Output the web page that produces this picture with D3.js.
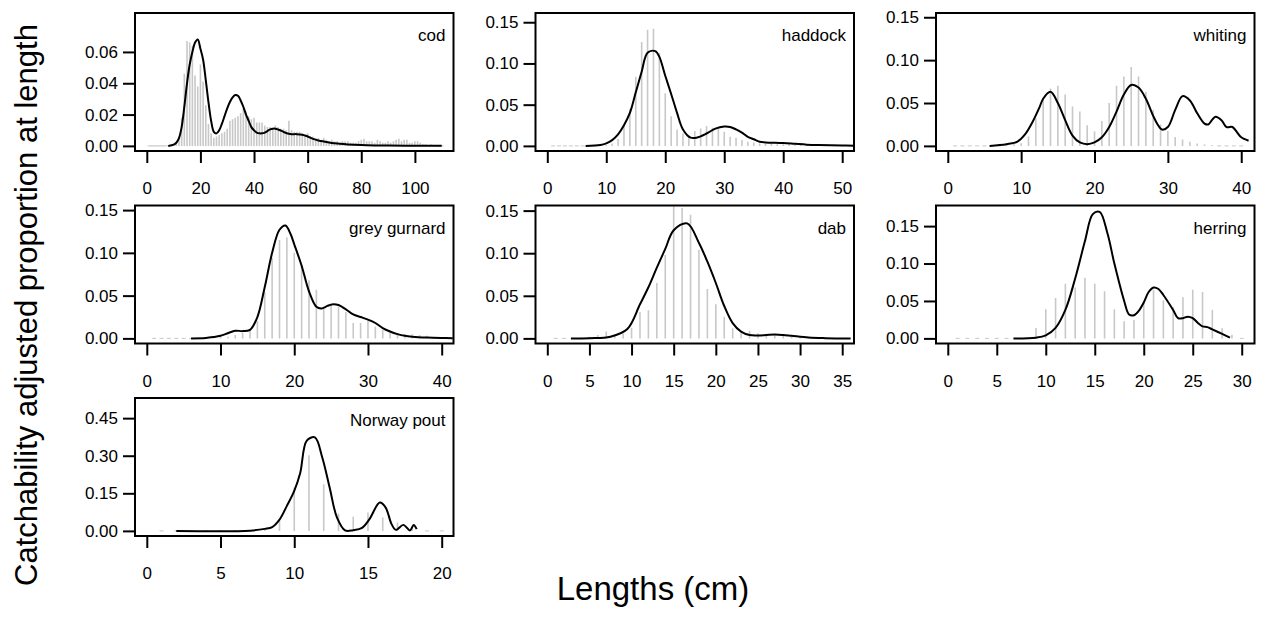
<!DOCTYPE html>
<html>
<head>
<meta charset="utf-8">
<script src="https://cdn.jsdelivr.net/npm/d3@7"></script>
<style>
  body { margin: 0; background: #fff; }
  svg { display: block; }
  text { font-family: "Liberation Sans", Arial, Helvetica, sans-serif; fill: #000; }
</style>
</head>
<body>
<div id="chart"></div>
<script>
// observed proportions at length (1 cm classes, starting at 1 cm)
const codBars = [0,0,0,0,0,0,0,0.0002,0.0004,0.0008,0.002,0.005,0.018,0.046,0.067,0.066,0.064,0.045,0.038,0.052,
  0.041,0.026,0.014,0.008,0.005,0.006,0.007,0.008,0.009,0.011,0.016,0.017,0.018,0.019,0.021,0.024,0.022,0.019,0.017,0.018,
  0.015,0.015,0.015,0.013,0.012,0.012,0.011,0.013,0.012,0.011,0.011,0.010,0.016,0.010,0.009,0.009,0.009,0.008,0.007,0.008,
  0.006,0.006,0.005,0.005,0.004,0.005,0.004,0.003,0.004,0.003,0.003,0.002,0.003,0.003,0.003,0.002,0.002,0.002,0.003,0.004,
  0.0045,0.003,0.003,0.003,0.002,0.004,0.003,0.002,0.002,0.003,0.002,0.003,0.004,0.0045,0.003,0.004,0.004,0.002,0.002,0.003,
  0.003,0.002,0.001,0.001,0.0005,0.001,0.0005,0,0,0];
const haddockBars = [0,0,0,0,0,0,0,0,0.0005,0.001,0.003,0.0085,0.025,0.045,0.084,0.126,0.141,0.142,0.113,0.064,
  0.036,0.020,0.015,0.013,0.018,0.021,0.024,0.022,0.021,0.017,0.011,0.010,0.007,0.005,0.004,0.003,0.003,0.003,0.002,0.002,
  0.002,0.002,0.001,0.001,0.001,0.001,0.001,0.0005,0.0005,0.0005];
const whitingBars = [0,0,0,0,0,0,0,0.001,0.002,0.003,0.011,0.032,0.056,0.067,0.070,0.060,0.046,0.040,0.024,0.017,
  0.029,0.050,0.070,0.081,0.092,0.081,0.063,0.042,0.025,0.0175,0.0105,0.0074,0.0047,0.0027,0.0015,0.001,0,0,0,0];
const gurnardBars = [0,0,0,0,0,0,0,0.0005,0.001,0.0015,0.002,0.004,0.006,0.010,0.020,0.054,0.094,0.115,0.118,0.100,
  0.086,0.068,0.057,0.035,0.041,0.037,0.031,0.018,0.018,0.021,0.0135,0.0098,0.0078,0.006,0.0047,0.0047,0.004,0.003,0.001,0.0005];
const dabBars = [0,0,0.0005,0.001,0.002,0.004,0.008,0.004,0.006,0.0125,0.031,0.033,0.065,0.098,0.155,0.153,0.145,0.104,0.058,0.040,
  0.0255,0.012,0.008,0.009,0.006,0.004,0.004,0.003,0.002,0.001,0.001,0.0005,0,0,0];
const herringBars = [0,0,0,0,0,0,0,0,0.014,0.039,0.054,0.073,0.068,0.081,0.073,0.063,0.039,0.023,0.0245,0.049,
  0.065,0.051,0.042,0.055,0.065,0.062,0.038,0.0134,0.005,0];
const poutBars = [0,0,0,0,0,0,0,0.007,0.040,0.173,0.302,0.186,0.069,0.056,0.073,0.053,0.033,0.013,0,0];

// fitted catchability-adjusted curves: [length (cm), proportion]
const codFit = [[8,0],[10,0.0008],[11,0.002],[12,0.005],[13,0.012],[14,0.025],[15,0.040],[16,0.052],[17,0.060],[18,0.066],
  [19,0.068],[20,0.062],[21,0.055],[22,0.042],[23,0.028],[24,0.016],[25,0.009],[26,0.008],[27,0.010],[28,0.014],
  [29,0.019],[30,0.024],[31,0.028],[32,0.031],[33,0.0325],[34,0.032],[35,0.029],[36,0.025],[37,0.020],[38,0.016],
  [39,0.012],[40,0.010],[41,0.0085],[42,0.008],[43,0.008],[44,0.0085],[45,0.0095],[46,0.0105],[47,0.011],[48,0.011],
  [49,0.0105],[50,0.0098],[51,0.009],[52,0.0082],[53,0.0077],[54,0.0075],[56,0.0075],[58,0.0071],[59,0.0066],[60,0.006],
  [61,0.0052],[62,0.0045],[64,0.0035],[66,0.0028],[68,0.0022],[70,0.0017],[72,0.0013],[75,0.0009],[80,0.0005],
  [85,0.0003],[90,0.0002],[100,0.0001],[110,0.0001]];
const haddockFit = [[6.5,0],[9,0.001],[10,0.003],[11,0.007],[12,0.014],[13,0.025],[14,0.040],[15,0.065],[16,0.090],
  [17,0.113],[18.3,0.115],[19,0.108],[20,0.085],[21,0.063],[22,0.040],[23,0.020],[24.3,0.010],[25.3,0.010],[27,0.015],
  [28.5,0.021],[30,0.0235],[31,0.023],[32,0.020],[33,0.016],[34,0.011],[35,0.008],[36,0.005],[37,0.0042],[40,0.0035],
  [42,0.0025],[44,0.0015],[46,0.001],[50,0.0005],[52,0.0003]];
const whitingFit = [[5.7,0],[8,0.002],[9.5,0.005],[10.5,0.013],[11.5,0.027],[12.5,0.045],[13,0.055],[14,0.063],[15,0.050],
  [16,0.030],[17,0.012],[18,0.004],[19,0.002],[20,0.004],[21,0.010],[22,0.022],[23,0.040],[24,0.060],[25,0.071],
  [26,0.068],[27,0.055],[28,0.035],[28.6,0.025],[29.2,0.019],[30,0.022],[31,0.042],[32,0.058],[33,0.053],[34,0.038],
  [35,0.026],[35.5,0.025],[36,0.030],[36.5,0.034],[37.3,0.030],[38,0.022],[38.8,0.022],[39.5,0.015],[40,0.010],[41,0.006]];
const gurnardFit = [[6,0],[8,0.0005],[9,0.0015],[10,0.003],[11,0.006],[12,0.009],[13,0.0085],[14,0.010],[15,0.025],
  [16,0.060],[17,0.100],[18,0.127],[18.8,0.132],[19.5,0.122],[20,0.110],[21,0.085],[22,0.055],[23,0.037],[23.7,0.035],
  [24.5,0.038],[25.3,0.040],[26,0.039],[27,0.034],[28,0.028],[29,0.025],[30,0.022],[31,0.018],[32,0.012],[33,0.008],
  [34,0.005],[35,0.003],[36,0.002],[38,0.001],[40,0.0005],[41.5,0.0003]];
const dabFit = [[2.8,0],[5,0.0003],[7.5,0.002],[9.5,0.011],[11,0.040],[12,0.060],[13,0.083],[14,0.105],[15,0.127],
  [16.6,0.135],[18,0.112],[19,0.090],[20,0.065],[21,0.038],[22,0.018],[23,0.008],[24,0.004],[25,0.0035],[27,0.0045],
  [28,0.004],[29,0.003],[31,0.001],[33,0.0003],[36,0]];
const herringFit = [[6.7,0],[9,0.001],[10,0.004],[11,0.014],[12,0.038],[13,0.080],[14,0.130],[14.8,0.166],[15.5,0.169],
  [16.3,0.140],[17,0.100],[18,0.050],[18.5,0.032],[19,0.031],[19.5,0.037],[20,0.048],[20.5,0.062],[21,0.068],[21.5,0.066],
  [22,0.058],[23,0.038],[23.5,0.027],[24,0.027],[24.5,0.029],[25,0.027],[25.5,0.021],[26,0.016],[26.5,0.015],[27,0.012],
  [28,0.006],[28.8,0.001]];
const poutFit = [[2,0],[7,0.001],[8,0.008],[8.5,0.015],[9,0.045],[9.5,0.10],[10,0.16],[10.4,0.23],[10.85,0.36],[11.4,0.373],
  [11.9,0.293],[12.4,0.173],[12.9,0.053],[13.45,0.002],[14,0.003],[14.6,0.012],[15.1,0.047],[15.8,0.113],[16.2,0.093],
  [16.6,0.027],[16.9,0.004],[17.4,0.024],[17.85,0.002],[18.1,0.024],[18.3,0.007]];

const species = ["cod", "haddock", "whiting", "grey gurnard", "dab", "herring", "Norway pout"];
const barSets = [codBars, haddockBars, whitingBars, gurnardBars, dabBars, herringBars, poutBars];
const fitSets = [codFit, haddockFit, whitingFit, gurnardFit, dabFit, herringFit, poutFit];
const xLims = [[0, 110], [0, 50], [0, 40.2], [0, 40], [0, 35], [0, 30.1], [0, 20]];
const yMaxes = [0.0816, 0.155, 0.149, 0.1494, 0.150, 0.1707, 0.51];
const xTicks = [d3.range(0, 101, 20), d3.range(0, 51, 10), d3.range(0, 41, 10), d3.range(0, 41, 10),
  d3.range(0, 36, 5), d3.range(0, 31, 5), d3.range(0, 21, 5)];
const yTicks = [[0, 0.02, 0.04, 0.06], [0, 0.05, 0.10, 0.15], [0, 0.05, 0.10, 0.15], [0, 0.05, 0.10, 0.15],
  [0, 0.05, 0.10, 0.15], [0, 0.05, 0.10, 0.15], [0, 0.15, 0.30, 0.45]];

const width = 1265, height = 618;
const panelW = 318.5, panelH = 138;
const colX = [135, 535.5, 936], rowY = [13, 205.5, 398];
const tickFont = 17;

const svg = d3.select("#chart").append("svg")
  .attr("width", width)
  .attr("height", height);

species.forEach((name, i) => {
  const left = colX[i % 3], top = rowY[Math.floor(i / 3)];
  const xl = xLims[i], padX = (xl[1] - xl[0]) * 0.04, padY = yMaxes[i] * 0.04;

  const x = d3.scaleLinear().domain([xl[0] - padX, xl[1] + padX]).range([0, panelW]);
  const y = d3.scaleLinear().domain([-padY, yMaxes[i] + padY]).range([panelH, 0]);

  const g = svg.append("g").attr("transform", `translate(${left},${top})`);

  g.append("clipPath").attr("id", "clip" + i)
    .append("rect").attr("width", panelW).attr("height", panelH);

  const plot = g.append("g").attr("clip-path", `url(#clip${i})`);

  // grey bars, zero classes show as a short dash on the baseline
  const bars = barSets[i].map((v, k) => ({len: k + 1, v: v}));
  plot.selectAll(".bar")
    .data(bars)
    .enter()
    .append("line")
    .attr("x1", d => d.v > 0 ? x(d.len) : x(d.len) - 2)
    .attr("x2", d => d.v > 0 ? x(d.len) : x(d.len) + 2)
    .attr("y1", y(0))
    .attr("y2", d => y(d.v))
    .attr("stroke", "#c8c8c8")
    .attr("stroke-width", d => d.v > 0 ? 1.6 : 1);

  // fitted curve
  const line = d3.line()
    .x(d => x(d[0]))
    .y(d => y(d[1]))
    .curve(d3.curveCatmullRom.alpha(0.5));

  plot.append("path")
    .datum(fitSets[i])
    .attr("d", line)
    .attr("fill", "none")
    .attr("stroke", "#000")
    .attr("stroke-width", 2)
    .attr("stroke-linejoin", "round");

  // axes
  const xAxis = g.append("g")
    .attr("transform", `translate(0,${panelH})`)
    .call(d3.axisBottom(x).tickValues(xTicks[i]).tickSize(12).tickSizeOuter(0).tickPadding(19));
  const yAxis = g.append("g")
    .call(d3.axisLeft(y).tickValues(yTicks[i]).tickSize(12).tickSizeOuter(0).tickPadding(5)
      .tickFormat(d3.format(".2f")));

  [xAxis, yAxis].forEach(a => {
    a.select(".domain").remove();
    a.selectAll("line").attr("stroke", "#000").attr("stroke-width", 2);
    a.selectAll("text")
      .style("font-family", '"Liberation Sans", Arial, sans-serif')
      .style("font-size", tickFont + "px")
      .attr("fill", "#000");
  });

  // panel box
  g.append("rect")
    .attr("width", panelW)
    .attr("height", panelH)
    .attr("fill", "none")
    .attr("stroke", "#000")
    .attr("stroke-width", 2);

  // species label
  g.append("text")
    .attr("x", panelW - 8)
    .attr("y", 28)
    .attr("text-anchor", "end")
    .style("font-size", "17px")
    .text(name);
});

// outer axis titles
svg.append("text")
  .attr("transform", "translate(37,305) rotate(-90)")
  .attr("text-anchor", "middle")
  .style("font-size", "31px")
  .text("Catchability adjusted proportion at length");

svg.append("text")
  .attr("x", 653)
  .attr("y", 600)
  .attr("text-anchor", "middle")
  .style("font-size", "33px")
  .text("Lengths (cm)");
</script>
</body>
</html>
